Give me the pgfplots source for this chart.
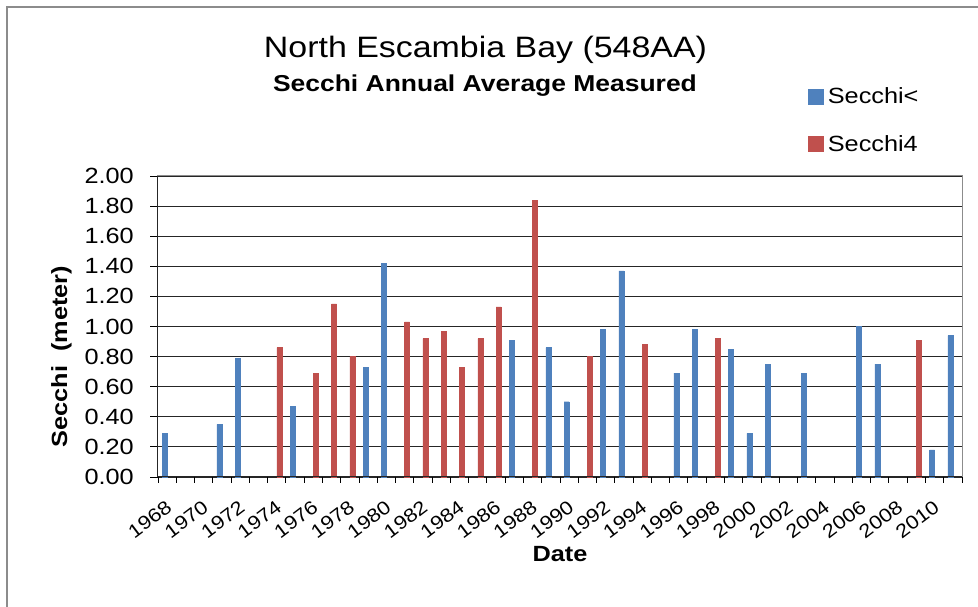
\documentclass[border=0pt]{standalone}
\usepackage{fontspec}
\setmainfont{Liberation Sans}[FakeStretch=1.15]
\usepackage{pgfplots}
\pgfplotsset{compat=1.18}
\definecolor{sblue}{HTML}{4F81BD}
\definecolor{sred}{HTML}{C0504D}
\definecolor{framegray}{HTML}{8C8C8C}
\pgfplotsset{
  mylegend/.style={legend image code/.code={\draw[##1, line width=0.4pt] (0pt,-7.5pt) rectangle (15pt,7.5pt);}}
}
\begin{document}
\begin{tikzpicture}
\useasboundingbox (0,0) rectangle (978pt,607pt);
\draw[framegray, line width=2pt] (7pt,0pt) -- (7pt,600pt) -- (978pt,600pt);
\node[font=\fontsize{29.5}{33}\selectfont] at (485.5pt,557pt) {North Escambia Bay (548AA)};
\node[font=\bfseries\fontsize{23}{27}\selectfont] at (485pt,521pt) {Secchi Annual Average Measured};
\begin{axis}[
  at={(158pt,130pt)}, anchor=south west,
  scale only axis, width=804pt, height=301pt,
  xmin=1967.5, xmax=2011.5, ymin=0, ymax=2,
  ybar, bar width=5pt,
  axis line style={draw=framegray, line width=1pt},
  ymajorgrids, major grid style={draw=black!85, line width=0.9pt},
  tick align=outside, tick pos=left,
  ytick={0,0.2,...,2.01},
  major tick length=8pt, minor tick length=6pt,
  tick style={black, line width=0.9pt},
  yticklabel style={font=\fontsize{22}{26}\selectfont, inner sep=0pt, xshift=-16pt,
    /pgf/number format/.cd, fixed, fixed zerofill, precision=2, assume math mode=true},
  xtick={1968,1970,...,2010},
  xticklabels={1968,1970,1972,1974,1976,1978,1980,1982,1984,1986,1988,1990,1992,1994,1996,1998,2000,2002,2004,2006,2008,2010},
  major x tick style={draw=none},
  minor xtick={1967.5,1968.5,...,2011.6},
  xticklabel style={font=\fontsize{19}{22}\selectfont, rotate=37, anchor=north east, inner sep=0pt, yshift=-10pt, xshift=-10pt},
  ylabel={Secchi\ \ (meter)},
  ylabel style={font=\bfseries\fontsize{22}{26}\selectfont, at={(axis description cs:-0.12,0.40)}, anchor=center},
  xlabel={Date},
  xlabel style={font=\bfseries\fontsize{22}{26}\selectfont, at={(axis description cs:0.5,-0.256)}, anchor=center},
  legend style={at={(axis description cs:0.805,1.307)}, anchor=north west, draw=none, fill=none,
    font=\fontsize{22}{26}\selectfont, row sep=26pt, column sep=2pt, legend cell align=left},
  legend cell align=left,
  clip=false,
]
\addplot[fill=sblue, draw=sblue, bar shift=-2.5pt, mylegend] coordinates {
(1968,0.29) (1971,0.35) (1972,0.79) (1975,0.47) (1979,0.73) (1980,1.42)
(1987,0.91) (1989,0.86) (1990,0.50) (1992,0.98) (1993,1.37) (1996,0.69)
(1997,0.98) (1999,0.85) (2000,0.29) (2001,0.75) (2003,0.69) (2006,1.00)
(2007,0.75) (2010,0.18) (2011,0.94)};
\addlegendentry{Secchi<}
\addplot[fill=sred, draw=sred, bar shift=2.5pt, mylegend] coordinates {
(1974,0.86) (1976,0.69) (1977,1.15) (1978,0.80) (1981,1.03) (1982,0.92)
(1983,0.97) (1984,0.73) (1985,0.92) (1986,1.13) (1988,1.84) (1991,0.80)
(1994,0.88) (1998,0.92) (2009,0.91)};
\addlegendentry{Secchi4}
\draw[black!85, line width=1pt] (rel axis cs:0,0) -- (rel axis cs:0,1);
\draw[black!85, line width=1pt] (rel axis cs:0,0) -- (rel axis cs:1,0);
\end{axis}
\end{tikzpicture}
\end{document}
